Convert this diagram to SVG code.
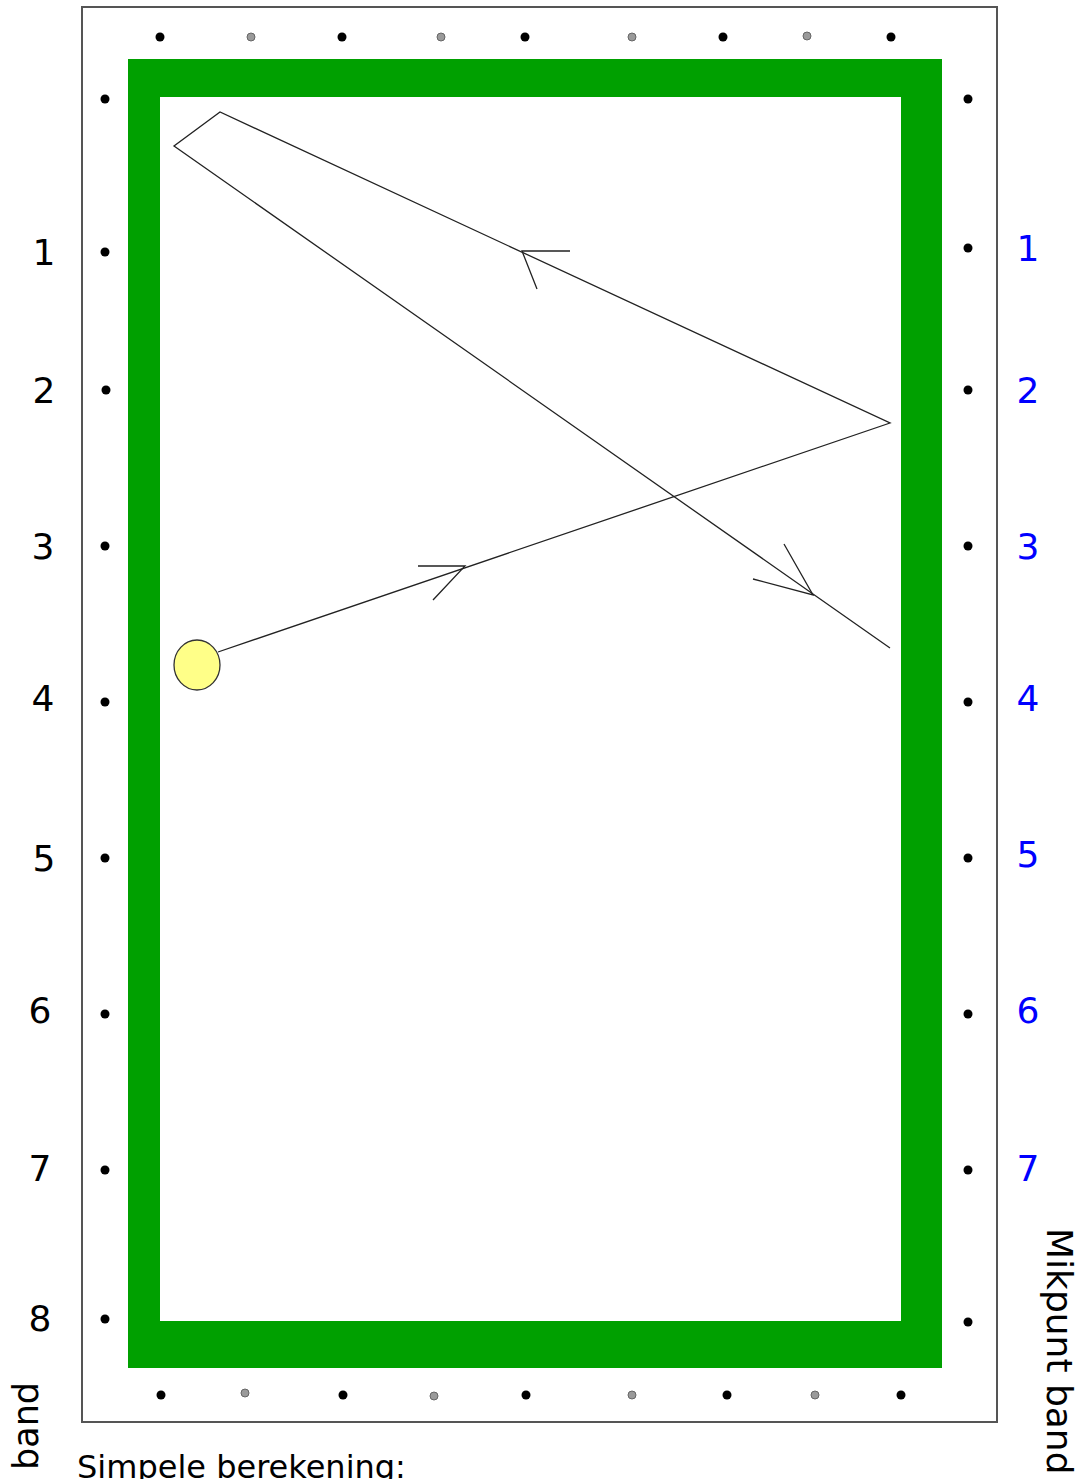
<svg xmlns="http://www.w3.org/2000/svg" width="1083" height="1479" viewBox="0 0 1083 1479">
<style>
.lbl{font-family:"DejaVu Sans","Verdana",sans-serif;font-size:36px;fill:#000;text-anchor:middle}
.blue{fill:#0000ff}
.bd{fill:#000}
.gd{fill:#9a9a9a;stroke:#666;stroke-width:1}
.path{fill:none;stroke:#222;stroke-width:1.3;stroke-linejoin:miter}
</style>
<rect width="1083" height="1479" fill="#fff"/>
<g id="table">
<rect x="82" y="7" width="915" height="1415" fill="#fff" stroke="#555" stroke-width="2"/>
<rect x="128" y="59" width="814" height="1309" fill="#00a000"/>
<rect x="160" y="97" width="741" height="1224" fill="#fff"/>
</g>
<g id="diamonds-top">
<circle class="bd" cx="160" cy="37" r="4.5"/>
<circle class="gd" cx="251" cy="37" r="4"/>
<circle class="bd" cx="342" cy="37" r="4.5"/>
<circle class="gd" cx="441" cy="37" r="4"/>
<circle class="bd" cx="525" cy="37" r="4.5"/>
<circle class="gd" cx="632" cy="37" r="4"/>
<circle class="bd" cx="723" cy="37" r="4.5"/>
<circle class="gd" cx="807" cy="36" r="4"/>
<circle class="bd" cx="891" cy="37" r="4.5"/>
</g>
<g id="diamonds-bottom">
<circle class="bd" cx="161" cy="1395" r="4.5"/>
<circle class="gd" cx="245" cy="1393" r="4"/>
<circle class="bd" cx="343" cy="1395" r="4.5"/>
<circle class="gd" cx="434" cy="1396" r="4"/>
<circle class="bd" cx="526" cy="1395" r="4.5"/>
<circle class="gd" cx="632" cy="1395" r="4"/>
<circle class="bd" cx="727" cy="1395" r="4.5"/>
<circle class="gd" cx="815" cy="1395" r="4"/>
<circle class="bd" cx="901" cy="1395" r="4.5"/>
</g>
<g id="diamonds-left">
<circle class="bd" cx="105" cy="99" r="4.5"/>
<circle class="bd" cx="105" cy="252" r="4.5"/>
<circle class="bd" cx="106" cy="390" r="4.5"/>
<circle class="bd" cx="105" cy="546" r="4.5"/>
<circle class="bd" cx="105" cy="702" r="4.5"/>
<circle class="bd" cx="105" cy="858" r="4.5"/>
<circle class="bd" cx="105" cy="1014" r="4.5"/>
<circle class="bd" cx="105" cy="1170" r="4.5"/>
<circle class="bd" cx="105" cy="1319" r="4.5"/>
</g>
<g id="diamonds-right">
<circle class="bd" cx="968" cy="99" r="4.5"/>
<circle class="bd" cx="968" cy="248" r="4.5"/>
<circle class="bd" cx="968" cy="390" r="4.5"/>
<circle class="bd" cx="968" cy="546" r="4.5"/>
<circle class="bd" cx="968" cy="702" r="4.5"/>
<circle class="bd" cx="968" cy="858" r="4.5"/>
<circle class="bd" cx="968" cy="1014" r="4.5"/>
<circle class="bd" cx="968" cy="1170" r="4.5"/>
<circle class="bd" cx="968" cy="1322" r="4.5"/>
</g>
<g id="labels-left">
<text class="lbl" x="44" y="265">1</text>
<text class="lbl" x="44" y="403">2</text>
<text class="lbl" x="43" y="559">3</text>
<text class="lbl" x="43" y="711">4</text>
<text class="lbl" x="44" y="871">5</text>
<text class="lbl" x="40" y="1023">6</text>
<text class="lbl" x="40" y="1181">7</text>
<text class="lbl" x="40" y="1331">8</text>
</g>
<g id="labels-right">
<text class="lbl blue" x="1028" y="261">1</text>
<text class="lbl blue" x="1028" y="403">2</text>
<text class="lbl blue" x="1028" y="559">3</text>
<text class="lbl blue" x="1028" y="711">4</text>
<text class="lbl blue" x="1028" y="867">5</text>
<text class="lbl blue" x="1028" y="1023">6</text>
<text class="lbl blue" x="1028" y="1181">7</text>
</g>
<g id="connectors">
<polyline class="path" points="218,652 890,423 220,112 174,146 890,648"/>
<polyline class="path" points="418,566 465,566 433,600"/>
<polyline class="path" points="570,251 522,251 537,289"/>
<polyline class="path" points="753,579 813,595 784,544"/>
</g>
<g id="ball">
<ellipse cx="197" cy="665" rx="23" ry="25" fill="#ffff88" stroke="#333" stroke-width="1.3"/>
</g>
<g id="captions">
<text x="1047" y="1228" transform="rotate(90 1047 1228)" style="font-family:'DejaVu Sans',sans-serif;font-size:36px">Mikpunt band</text>
<text x="38" y="1470" transform="rotate(-90 38 1470)" style="font-family:'DejaVu Sans',sans-serif;font-size:35px">band</text>
<text x="77" y="1478" style="font-family:'DejaVu Sans',sans-serif;font-size:32px">Simpele berekening:</text>
</g>
</svg>
